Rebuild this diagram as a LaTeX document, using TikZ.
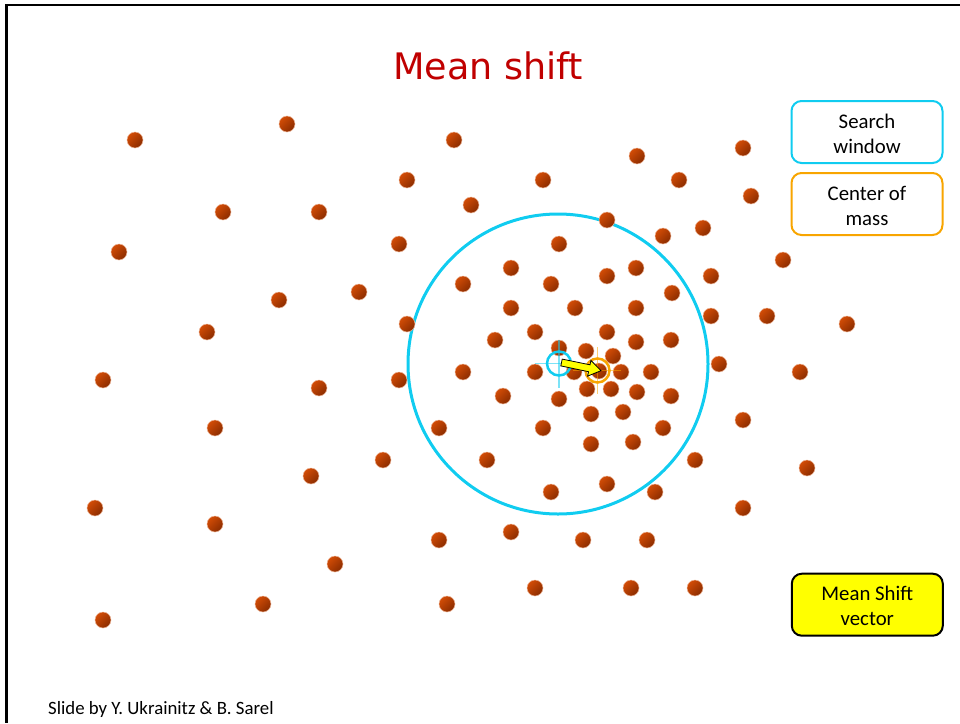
\documentclass[tikz,border=0pt]{standalone}
\usepackage{fontspec}
\setmainfont{Carlito}
\newfontfamily\titlefont{DejaVu Sans}
\definecolor{titlered}{HTML}{C00000}
\definecolor{wincyan}{HTML}{10CCF0}
\definecolor{massorange}{HTML}{F8A500}
\definecolor{dotlight}{HTML}{D24C06}
\definecolor{dotdark}{HTML}{8A2C00}
\definecolor{arrowyellow}{HTML}{FFFF00}
\tikzset{
  ball/.style={top color=dotlight, bottom color=dotdark, shading angle=45, draw=dotlight!40, line width=0.5pt},
  legendbox/.style={draw, line width=2pt, rounded corners=10pt, minimum width=151pt, minimum height=62pt, inner sep=0pt},
  boxtext/.style={align=center, font=\fontsize{20.8}{25}\selectfont, inner sep=0pt},
  cross/.style={line width=1.6pt, opacity=0.55},
}
\begin{document}
\begin{tikzpicture}[x=1pt,y=-1pt]
\useasboundingbox (0,0) rectangle (960,723);
% slide frame
\coordinate (ftl) at (6.5,5.2);
\coordinate (ftr) at (960,5.2);
\coordinate (fbl) at (6.5,723);
\draw[line width=2.3pt] (ftr) -- (ftl) -- (fbl);
% title
\node[anchor=base, text=titlered, font=\titlefont\fontsize{36.5}{42}\selectfont, inner sep=0pt] (title) at (488,79) {Mean shift};
% search window
\draw[wincyan, line width=3pt] (558,364) circle (150);
% points
\foreach \x/\y in {135/140,287/124,454/140,637/156,743/148,407/180,543/180,679/180,751/196,
  223/212,319/212,471/205,607/220,663/236,703/228,119/252,399/244,559/244,783/260,
  511/268,607/276,636/268,711/276,279/300,359/292,463/284,551/284,672/293,
  511/308,575/308,636/308,711/316,767/316,847/324,207/332,407/324,
  495/340,535/332,607/332,636/342,671/340,559/348,586/351,613/356,
  103/380,319/388,399/380,463/372,535/372,574/372,599/371,621/372,651/372,719/364,800/372,
  503/396,559/399,587/389,611/389,637/392,671/396,591/414,623/412,
  215/428,439/428,543/428,591/444,633/442,663/428,743/420,
  383/460,487/460,695/460,807/468,311/476,551/492,607/484,655/492,743/508,
  95/508,215/524,511/532,439/540,583/540,647/540,335/564,
  263/604,447/604,535/588,631/588,695/588,103/620}
  \shade[ball] (\x,\y) circle (8);
% window center marker
\coordinate (wc) at (559,363.5);
\draw[cross, wincyan] (559,340) -- (559,388);
\draw[cross, wincyan] (535,363.5) -- (583,363.5);
\draw[wincyan, line width=2.5pt] (wc) circle (12);
% center of mass marker
\coordinate (cm) at (597.5,370.5);
\draw[cross, massorange] (597.5,347) -- (597.5,394);
\draw[cross, massorange] (573,370.5) -- (621,370.5);
\draw[massorange, line width=2.5pt] (cm) circle (12);
% mean shift vector
\filldraw[fill=arrowyellow, draw=black, line width=0.8pt, line join=miter]
  (560.8,365.9) -- (562.2,359.1) -- (590.0,364.8) -- (590.9,360.4) -- (601,370.7)
  -- (587.6,376.1) -- (588.5,371.7) -- cycle;
% legend boxes
\node[legendbox, draw=wincyan] (search) at (867,132) {};
\node[boxtext] (searchtxt) at ([yshift=-2pt]search.center) {Search\\window};
\node[legendbox, draw=massorange] (mass) at (867,204) {};
\node[boxtext] (masstxt) at ([yshift=-2pt]mass.center) {Center of\\mass};
\node[legendbox, draw=black, fill=arrowyellow] (msv) at (867.3,604.7) {};
\node[boxtext] (msvtxt) at ([yshift=-1.5pt]msv.center) {Mean Shift\\vector};
% footer
\node[anchor=base west, inner sep=0pt, font=\fontsize{18.8}{22}\selectfont] (credit) at (48,714) {Slide by Y. Ukrainitz \& B. Sarel};
\end{tikzpicture}
\end{document}
